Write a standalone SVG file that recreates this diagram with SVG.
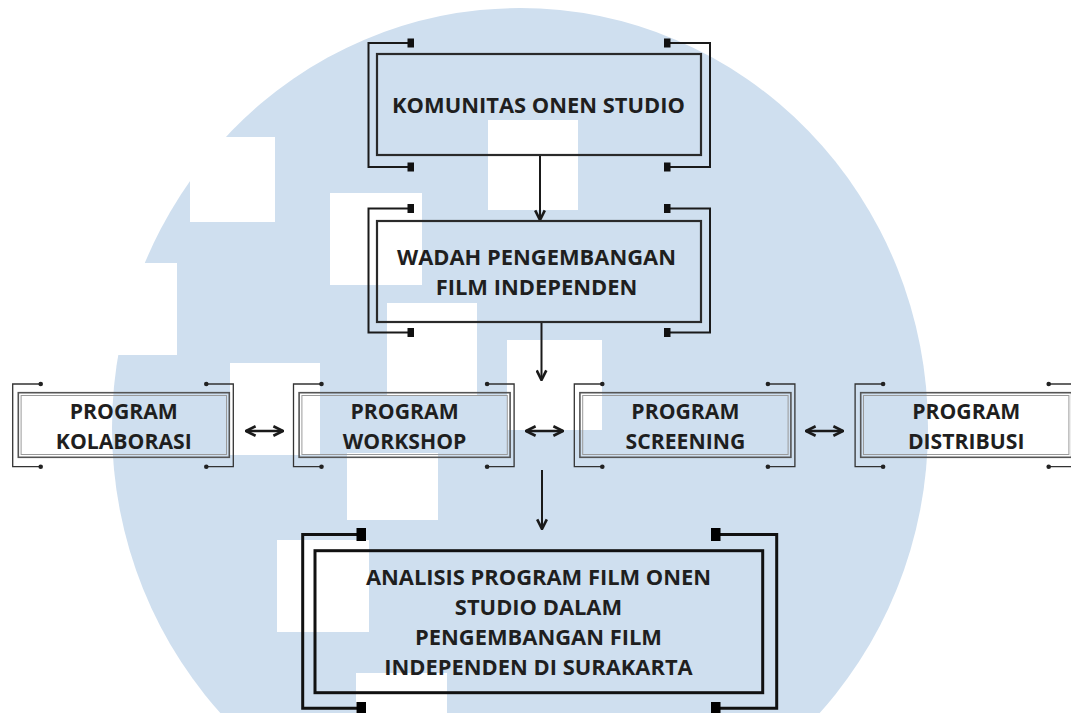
<svg xmlns="http://www.w3.org/2000/svg" width="1071" height="713" viewBox="0 0 1071 713">
  <defs>
    <style>
      .bg { fill: #cfdfef; }
      .wm { fill: #ffffff; }
      .txt { font-family: "Open Sans", "Liberation Sans", sans-serif; font-weight: 700; fill: #1f1f1f; text-anchor: middle; }
      .big { font-size: 21.9px; }
      .prog { font-size: 21.2px; }
      .box2 { fill: none; stroke: #2a2a2a; stroke-width: 2.2; }
      .brk2 { fill: none; stroke: #1a1a1a; stroke-width: 2; }
      .term2 { fill: #111; }
      .boxp { fill: none; stroke: #555; stroke-width: 1.6; }
      .boxpi { fill: none; stroke: #9a9a9a; stroke-width: 1; }
      .brkp { fill: none; stroke: #333; stroke-width: 1.3; }
      .dot { fill: #222; }
      .box3 { fill: none; stroke: #111; stroke-width: 3; }
      .brk3 { fill: none; stroke: #111; stroke-width: 3; }
      .term3 { fill: #000; }
      .conn { fill: none; stroke: #1a1a1a; stroke-width: 2; }
      .bi { fill: none; stroke: #1a1a1a; stroke-width: 2.6; }
    </style>
    <marker id="ah" viewBox="0 0 10 10" refX="9" refY="5" markerWidth="12" markerHeight="12" markerUnits="userSpaceOnUse" orient="auto-start-reverse">
      <path d="M1,1 L9,5 L1,9" fill="none" stroke="#1a1a1a" stroke-width="2.2" stroke-linejoin="miter"/>
    </marker>
  </defs>

  <!-- watermark background -->
  <g id="watermark">
    <ellipse class="bg" cx="520" cy="428" rx="408" ry="420"/>
    <rect class="wm" x="190" y="137" width="85" height="85"/>
    <rect class="wm" x="330" y="193" width="92" height="92"/>
    <rect class="wm" x="488" y="120" width="90" height="90"/>
    <rect class="wm" x="95" y="263" width="82" height="92"/>
    <rect class="wm" x="387" y="303" width="90" height="92"/>
    <rect class="wm" x="507" y="340" width="95" height="90"/>
    <rect class="wm" x="230" y="363" width="90" height="92"/>
    <rect class="wm" x="347" y="453" width="91" height="67"/>
    <rect class="wm" x="277" y="540" width="92" height="92"/>
    <rect class="wm" x="356" y="673" width="91" height="40"/>
  </g>

  <!-- connectors -->
  <g id="connectors">
    <line class="conn" x1="540" y1="156" x2="540" y2="220" marker-end="url(#ah)"/>
    <line class="conn" x1="541.5" y1="323" x2="541.5" y2="380" marker-end="url(#ah)"/>
    <line class="conn" x1="542" y1="470" x2="542" y2="529" marker-end="url(#ah)"/>
    <line class="bi" x1="246" y1="431" x2="283" y2="431" marker-start="url(#ah)" marker-end="url(#ah)"/>
    <line class="bi" x1="526" y1="431" x2="563" y2="431" marker-start="url(#ah)" marker-end="url(#ah)"/>
    <line class="bi" x1="806" y1="431" x2="843" y2="431" marker-start="url(#ah)" marker-end="url(#ah)"/>
  </g>

  <!-- KOMUNITAS ONEN STUDIO -->
  <g id="node-komunitas">
    <rect class="box2" x="377" y="54" width="324" height="101"/>
    <path class="brk2" d="M410,43 H368.5 V167 H410 M664,43 H710 V167 H664"/>
    <rect class="term2" x="407.5" y="38.5" width="6.5" height="9"/>
    <rect class="term2" x="407.5" y="162.5" width="6.5" height="9"/>
    <rect class="term2" x="664" y="38.5" width="6.5" height="9"/>
    <rect class="term2" x="664" y="162.5" width="6.5" height="9"/>
    <text class="txt big" x="538.5" y="113">KOMUNITAS ONEN STUDIO</text>
  </g>

  <!-- WADAH PENGEMBANGAN FILM INDEPENDEN -->
  <g id="node-wadah">
    <rect class="box2" x="377" y="221" width="324" height="101"/>
    <path class="brk2" d="M410,208.5 H368.5 V332.5 H410 M664,208.5 H710 V332.5 H664"/>
    <rect class="term2" x="407.5" y="204" width="6.5" height="9"/>
    <rect class="term2" x="407.5" y="328" width="6.5" height="9"/>
    <rect class="term2" x="664" y="204" width="6.5" height="9"/>
    <rect class="term2" x="664" y="328" width="6.5" height="9"/>
    <text class="txt big" x="536.5" y="265">WADAH PENGEMBANGAN</text>
    <text class="txt big" x="536.5" y="295">FILM INDEPENDEN</text>
  </g>

  <!-- PROGRAM KOLABORASI -->
  <g id="node-kolaborasi" transform="translate(18.3,0)">
    <rect class="boxp" x="0" y="392.7" width="211" height="64.6"/>
    <rect class="boxpi" x="2.8" y="395.5" width="205.4" height="59"/>
    <path class="brkp" d="M22.4,384 H-5.6 V466.7 H22.4 M188,384 H215 V466.7 H188"/>
    <circle class="dot" cx="22.4" cy="384" r="2.3"/>
    <circle class="dot" cx="22.4" cy="466.7" r="2.3"/>
    <circle class="dot" cx="188" cy="384" r="2.3"/>
    <circle class="dot" cx="188" cy="466.7" r="2.3"/>
    <text class="txt prog" x="105.5" y="418.5">PROGRAM</text>
    <text class="txt prog" x="105.5" y="449">KOLABORASI</text>
  </g>

  <!-- PROGRAM WORKSHOP -->
  <g id="node-workshop" transform="translate(299.1,0)">
    <rect class="boxp" x="0" y="392.7" width="211" height="64.6"/>
    <rect class="boxpi" x="2.8" y="395.5" width="205.4" height="59"/>
    <path class="brkp" d="M22.4,384 H-5.6 V466.7 H22.4 M188,384 H215 V466.7 H188"/>
    <circle class="dot" cx="22.4" cy="384" r="2.3"/>
    <circle class="dot" cx="22.4" cy="466.7" r="2.3"/>
    <circle class="dot" cx="188" cy="384" r="2.3"/>
    <circle class="dot" cx="188" cy="466.7" r="2.3"/>
    <text class="txt prog" x="105.5" y="418.5">PROGRAM</text>
    <text class="txt prog" x="105.5" y="449">WORKSHOP</text>
  </g>

  <!-- PROGRAM SCREENING -->
  <g id="node-screening" transform="translate(579.9,0)">
    <rect class="boxp" x="0" y="392.7" width="211" height="64.6"/>
    <rect class="boxpi" x="2.8" y="395.5" width="205.4" height="59"/>
    <path class="brkp" d="M22.4,384 H-5.6 V466.7 H22.4 M188,384 H215 V466.7 H188"/>
    <circle class="dot" cx="22.4" cy="384" r="2.3"/>
    <circle class="dot" cx="22.4" cy="466.7" r="2.3"/>
    <circle class="dot" cx="188" cy="384" r="2.3"/>
    <circle class="dot" cx="188" cy="466.7" r="2.3"/>
    <text class="txt prog" x="105.5" y="418.5">PROGRAM</text>
    <text class="txt prog" x="105.5" y="449">SCREENING</text>
  </g>

  <!-- PROGRAM DISTRIBUSI -->
  <g id="node-distribusi" transform="translate(860.7,0)">
    <rect class="boxp" x="0" y="392.7" width="211" height="64.6"/>
    <rect class="boxpi" x="2.8" y="395.5" width="205.4" height="59"/>
    <path class="brkp" d="M22.4,384 H-5.6 V466.7 H22.4 M188,384 H215 V466.7 H188"/>
    <circle class="dot" cx="22.4" cy="384" r="2.3"/>
    <circle class="dot" cx="22.4" cy="466.7" r="2.3"/>
    <circle class="dot" cx="188" cy="384" r="2.3"/>
    <circle class="dot" cx="188" cy="466.7" r="2.3"/>
    <text class="txt prog" x="105.5" y="418.5">PROGRAM</text>
    <text class="txt prog" x="105.5" y="449">DISTRIBUSI</text>
  </g>

  <!-- ANALISIS -->
  <g id="node-analisis">
    <rect class="box3" x="315" y="550.7" width="447.7" height="142"/>
    <path class="brk3" d="M360,534.5 H302.7 V708.3 H360 M714,534.5 H776.7 V708.3 H714"/>
    <rect class="term3" x="356.5" y="528" width="9.5" height="13"/>
    <rect class="term3" x="356.5" y="702" width="9.5" height="13"/>
    <rect class="term3" x="711" y="528" width="9.5" height="13"/>
    <rect class="term3" x="711" y="702" width="9.5" height="13"/>
    <text class="txt big" x="538.5" y="585">ANALISIS PROGRAM FILM ONEN</text>
    <text class="txt big" x="538.5" y="615">STUDIO DALAM</text>
    <text class="txt big" x="538.5" y="645">PENGEMBANGAN FILM</text>
    <text class="txt big" x="538.5" y="675">INDEPENDEN DI SURAKARTA</text>
  </g>
</svg>
